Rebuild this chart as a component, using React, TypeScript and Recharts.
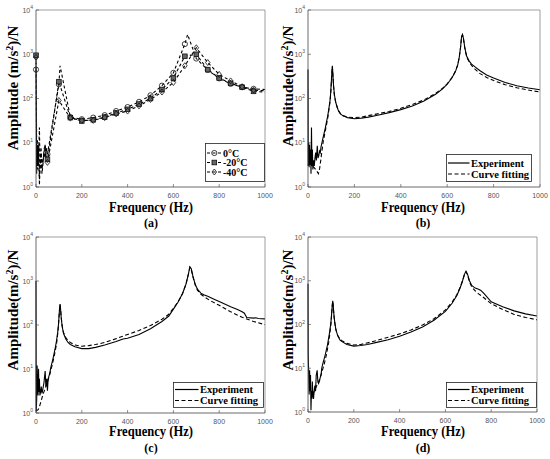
import React from 'react';
import { LineChart, Line, XAxis, YAxis, Legend } from 'recharts';

const SERIF = '"Liberation Serif", "Times New Roman", serif';
const SANS = '"Liberation Sans", Arial, sans-serif';

const xTicks = [0, 200, 400, 600, 800, 1000];
const yTicks = [1, 10, 100, 1000, 10000];
const yMinorTicks = [
  2, 3, 4, 5, 6, 7, 8, 9,
  20, 30, 40, 50, 60, 70, 80, 90,
  200, 300, 400, 500, 600, 700, 800, 900,
  2000, 3000, 4000, 5000, 6000, 7000, 8000, 9000,
];
const xDomain = [0, 1000];
const yDomain = [1, 10000];

const tempNames = ['0°C', '-20°C', '-40°C'];
const fitNames = ['Experiment', 'Curve fitting'];
const captions = ['(a)', '(b)', '(c)', '(d)'];
const xTitle = 'Frequency (Hz)';

// ---------- Panel (a): three temperatures ----------
const aFreq0 = [0, 3, 6, 9, 12, 15, 18, 22, 26, 30, 35, 40, 45, 50, 100, 105, 150, 200, 250, 300, 350, 400, 450, 500, 550, 600, 650, 662, 700, 750, 800, 850, 900, 950, 1000];
const aAmp0 = [450, 3, 9, 3, 7, 22, 2.5, 6, 3, 4, 6, 4.5, 8, 5.5, 210, 550, 38, 34, 37, 42, 52, 64, 84, 118, 195, 380, 1700, 2800, 800, 440, 285, 215, 180, 165, 160];

const aFreq20 = [0, 3, 6, 9, 12, 15, 18, 22, 26, 30, 35, 40, 45, 50, 100, 150, 200, 250, 300, 350, 400, 450, 500, 550, 600, 650, 700, 750, 800, 850, 900, 950, 1000];
const aAmp20 = [950, 2, 12, 3, 9, 1.1, 4, 8, 2.5, 3.5, 6, 9, 4, 4.2, 240, 37, 31, 33, 38, 47, 57, 75, 100, 160, 290, 900, 1000, 450, 290, 220, 180, 145, 140];

const aFreq40 = [0, 3, 6, 9, 12, 15, 18, 22, 26, 30, 35, 40, 45, 50, 100, 150, 200, 250, 300, 350, 400, 450, 500, 550, 600, 650, 700, 750, 800, 850, 900, 950, 1000];
const aAmp40 = [850, 8, 2.5, 9, 3, 1.5, 3, 5, 2, 3, 7, 9, 5, 3.6, 90, 36, 32, 32, 37, 45, 52, 68, 95, 140, 230, 550, 1400, 650, 350, 250, 185, 155, 150];

// ---------- Panel (b): 0°C ----------
const bExpFreq = [0, 1, 3, 5, 7, 9, 11, 13, 15, 17, 19, 21, 24, 27, 30, 33, 36, 40, 43, 46, 50, 53, 56, 60, 65, 70, 75, 80, 85, 90, 95, 98, 101, 103, 105, 107, 110, 114, 120, 130, 140, 150, 170, 200, 230, 260, 300, 350, 400, 450, 500, 550, 580, 600, 620, 635, 645, 652, 658, 662, 666, 670, 676, 684, 695, 705, 720, 740, 770, 800, 850, 900, 950, 1000];
const bExpAmp = [450, 3, 10, 2.8, 9, 3.2, 7, 2, 22, 3, 7, 2.5, 4, 3, 4.5, 6, 4, 8.5, 4.5, 5, 6.5, 6, 8, 10, 13, 17, 22, 30, 40, 60, 90, 140, 260, 400, 550, 380, 200, 120, 80, 55, 45, 41, 37, 35, 36, 38, 42, 48, 56, 68, 88, 125, 165, 210, 290, 400, 560, 850, 1500, 2500, 2800, 2300, 1400, 900, 700, 600, 520, 430, 340, 290, 230, 195, 172, 158];
const bFitFreq = [0, 5, 10, 20, 30, 40, 45, 50, 55, 60, 65, 70, 75, 80, 85, 90, 95, 98, 101, 103, 105, 107, 110, 114, 120, 130, 140, 150, 170, 200, 230, 260, 300, 350, 400, 450, 500, 550, 580, 600, 620, 635, 645, 652, 658, 662, 666, 670, 676, 684, 695, 705, 720, 740, 770, 800, 850, 900, 950, 1000];
const bFitAmp = [3.2, 3.3, 3.4, 3, 2.6, 2.2, 2, 2.6, 4, 6.5, 10, 14, 19, 26, 36, 55, 85, 130, 240, 380, 530, 360, 190, 115, 78, 54, 45, 41, 38, 37, 38, 41, 45, 51, 60, 73, 93, 130, 170, 215, 295, 410, 570, 860, 1500, 2500, 2750, 2250, 1350, 870, 660, 560, 460, 370, 300, 255, 205, 175, 155, 140];

// ---------- Panel (c): -20°C ----------
const cExpFreq = [0, 1, 3, 5, 7, 9, 11, 13, 15, 17, 20, 23, 26, 30, 35, 40, 43, 47, 50, 53, 57, 60, 65, 70, 75, 80, 85, 90, 95, 98, 101, 103, 105, 107, 110, 114, 120, 130, 140, 150, 170, 200, 230, 260, 300, 350, 380, 400, 450, 500, 550, 580, 600, 620, 640, 655, 665, 672, 678, 685, 695, 705, 720, 735, 750, 780, 800, 850, 880, 900, 910, 920, 950, 960, 970, 1000];
const cExpAmp = [1000, 1.1, 2, 12, 3, 2.5, 10, 3, 6, 2.5, 3, 4, 2.8, 3.5, 5, 9, 4, 6, 3.2, 6, 7, 8, 11, 14, 18, 24, 32, 45, 70, 100, 170, 240, 300, 240, 150, 95, 65, 48, 40, 36, 32, 29, 29, 31, 35, 42, 48, 50, 61, 82, 120, 160, 230, 330, 520, 850, 1400, 2100, 1900, 1300, 850, 650, 530, 480, 450, 380, 340, 260, 225, 200, 185, 148, 143, 146, 140, 138];
const cFitFreq = [0, 5, 10, 15, 20, 25, 30, 40, 50, 60, 70, 80, 90, 95, 98, 101, 103, 105, 107, 110, 114, 120, 130, 140, 150, 170, 200, 230, 260, 300, 350, 400, 450, 500, 550, 580, 600, 620, 640, 655, 665, 672, 678, 685, 695, 705, 720, 740, 760, 800, 850, 900, 950, 1000];
const cFitAmp = [1.1, 1.15, 1.2, 1.4, 1.7, 2.1, 2.6, 3.6, 5, 7.5, 12, 20, 38, 65, 95, 165, 235, 290, 235, 150, 97, 68, 52, 44, 40, 35, 33, 34, 36, 40, 49, 61, 75, 97, 135, 175, 240, 335, 520, 850, 1400, 2050, 1850, 1250, 820, 620, 500, 420, 360, 280, 200, 150, 120, 102];

// ---------- Panel (d): -40°C ----------
const dExpFreq = [0, 1, 3, 5, 7, 9, 11, 13, 15, 17, 19, 21, 24, 27, 30, 33, 36, 40, 43, 46, 50, 53, 57, 60, 65, 70, 75, 80, 85, 90, 95, 100, 103, 106, 108, 110, 113, 117, 122, 130, 140, 150, 170, 200, 230, 260, 300, 350, 400, 450, 500, 550, 600, 630, 650, 665, 675, 683, 690, 697, 705, 715, 730, 745, 755, 770, 800, 850, 900, 950, 1000];
const dExpAmp = [850, 20, 8, 2.5, 9, 3, 7, 1.1, 3, 2, 5, 2.5, 2, 3, 4, 3, 7, 9, 5, 4.5, 5, 6, 7, 10, 13, 16, 20, 26, 34, 48, 70, 110, 170, 280, 350, 280, 170, 110, 75, 55, 44, 40, 35, 32, 33, 35, 39, 45, 54, 67, 88, 125, 200, 310, 460, 700, 1000, 1400, 1650, 1400, 1000, 780, 680, 640, 600, 500, 330, 255, 205, 175, 157];
const dFitFreq = [20, 30, 40, 50, 60, 70, 80, 90, 95, 100, 103, 106, 108, 110, 113, 117, 122, 130, 140, 150, 170, 200, 230, 260, 300, 350, 400, 450, 500, 550, 600, 630, 650, 665, 675, 683, 690, 697, 705, 715, 730, 745, 760, 800, 850, 900, 950, 1000];
const dFitAmp = [2.5, 3.2, 4.2, 5.5, 8, 12, 20, 38, 60, 100, 165, 275, 340, 275, 165, 108, 75, 56, 46, 42, 37, 34, 35, 38, 43, 51, 61, 75, 97, 135, 215, 330, 480, 720, 1000, 1380, 1600, 1350, 950, 720, 590, 500, 440, 300, 220, 170, 145, 128];

type Pt = { f: number; v: number };
const zip = (f: number[], v: number[]): Pt[] => f.map((x, i) => ({ f: x, v: v[i] }));

const XTick = (props: any) => {
  const { x, y, payload } = props;
  return (
    <text x={x} y={y} textAnchor="middle" fontSize={7} fill="#555" fontFamily={SANS}>
      {payload.value}
    </text>
  );
};

const YTick = (props: any) => {
  const { x, y, payload } = props;
  const exp = Math.round(Math.log10(payload.value));
  return (
    <text x={x} y={y + 2.5} textAnchor="end" fontSize={7} fill="#555" fontFamily={SANS}>
      <tspan>10</tspan>
      <tspan dy={-3.5} fontSize={5}>{exp}</tspan>
    </text>
  );
};

type Shape = 'circle' | 'square' | 'diamond';
const Marker = ({ shape, cx, cy }: { shape: Shape; cx: number; cy: number }) => {
  if (shape === 'circle')
    return <circle cx={cx} cy={cy} r={2.6} fill="none" stroke="#111" strokeWidth={0.8} />;
  if (shape === 'square')
    return <rect x={cx - 2.3} y={cy - 2.3} width={4.6} height={4.6} fill="#666" stroke="#111" strokeWidth={0.8} />;
  return (
    <polygon
      points={`${cx},${cy - 3} ${cx + 2.3},${cy} ${cx},${cy + 3} ${cx - 2.3},${cy}`}
      fill="none"
      stroke="#111"
      strokeWidth={0.8}
    />
  );
};

const makeDot = (shape: Shape) => (props: any) => {
  const { cx, cy, payload, index } = props;
  if (cx == null || cy == null || payload.f % 50 !== 0 || payload.f > 950) return <g key={`d${index}`} />;
  return (
    <g key={`d${index}`}>
      <Marker shape={shape} cx={cx} cy={cy} />
    </g>
  );
};

const axes = () => [
  <XAxis
    key="xb"
    xAxisId={0}
    type="number"
    dataKey="f"
    domain={xDomain}
    ticks={xTicks}
    height={1}
    tickSize={-3}
    tickMargin={13.5}
    tick={<XTick />}
    axisLine={{ stroke: '#444', strokeWidth: 0.8 }}
    tickLine={{ stroke: '#444', strokeWidth: 0.6 }}
    interval={0}
  />,
  <XAxis
    key="xt"
    xAxisId="top"
    orientation="top"
    type="number"
    domain={xDomain}
    ticks={xTicks}
    height={1}
    tickSize={-3}
    tick={false}
    axisLine={{ stroke: '#777', strokeWidth: 0.7 }}
    tickLine={{ stroke: '#777', strokeWidth: 0.6 }}
  />,
  <YAxis
    key="yl"
    yAxisId={0}
    scale="log"
    type="number"
    domain={yDomain}
    ticks={yTicks}
    width={1}
    tickSize={-3}
    tickMargin={6}
    tick={<YTick />}
    axisLine={{ stroke: '#444', strokeWidth: 0.8 }}
    tickLine={{ stroke: '#444', strokeWidth: 0.6 }}
    interval={0}
  />,
  <YAxis
    key="ylm"
    yAxisId="leftMinor"
    scale="log"
    type="number"
    domain={yDomain}
    ticks={yMinorTicks}
    width={1}
    tickSize={-1.6}
    tick={false}
    axisLine={false}
    tickLine={{ stroke: '#666', strokeWidth: 0.5 }}
    interval={0}
  />,
  <YAxis
    key="yr"
    yAxisId="right"
    orientation="right"
    scale="log"
    type="number"
    domain={yDomain}
    ticks={yTicks}
    width={1}
    tickSize={-3}
    tick={false}
    axisLine={{ stroke: '#777', strokeWidth: 0.7 }}
    tickLine={{ stroke: '#777', strokeWidth: 0.6 }}
    interval={0}
  />,
  <YAxis
    key="yrm"
    yAxisId="rightMinor"
    orientation="right"
    scale="log"
    type="number"
    domain={yDomain}
    ticks={yMinorTicks}
    width={1}
    tickSize={-1.6}
    tick={false}
    axisLine={false}
    tickLine={{ stroke: '#777', strokeWidth: 0.5 }}
    interval={0}
  />,
];

const TempLegend = () => {
  const shapes: Shape[] = ['circle', 'square', 'diamond'];
  const rows = [10, 19.5, 29];
  return (
    <svg width={60} height={39} style={{ display: 'block' }}>
      <rect x={0.5} y={0.5} width={59} height={38} fill="#fff" stroke="#222" strokeWidth={0.8} />
      {tempNames.map((n, i) => (
        <g key={n}>
          <line x1={2} x2={16} y1={rows[i]} y2={rows[i]} stroke="#000" strokeWidth={1.1} strokeDasharray="3 2.5" />
          <Marker shape={shapes[i]} cx={9.3} cy={rows[i]} />
          <text x={18} y={rows[i] + 3.5} fontSize={10} fontWeight="bold" fontFamily={SERIF} fill="#000">
            {n}
          </text>
        </g>
      ))}
    </svg>
  );
};

const FitLegend = ({ w, h, rows, textX }: { w: number; h: number; rows: number[]; textX: number }) => (
  <svg width={w} height={h} style={{ display: 'block' }}>
    <rect x={0.5} y={0.5} width={w - 1} height={h - 1} fill="#fff" stroke="#222" strokeWidth={0.8} />
    {fitNames.map((n, i) => (
      <g key={n}>
        <line
          x1={2}
          x2={textX - 1.5}
          y1={rows[i]}
          y2={rows[i]}
          stroke="#000"
          strokeWidth={1.2}
          strokeDasharray={i === 1 ? '4 2.5' : undefined}
        />
        <text x={textX} y={rows[i] + 3.6} fontSize={10.5} fontWeight="bold" fontFamily={SERIF} fill="#000">
          {n}
        </text>
      </g>
    ))}
  </svg>
);

const Titles = ({
  yl,
  ylx,
  yly,
  xc,
  xlb,
  capb,
  caption,
}: {
  yl: React.ReactNode;
  ylx: number;
  yly: number;
  xc: number;
  xlb: number;
  capb: number;
  caption: string;
}) => (
  <svg
    width={275}
    height={230}
    style={{ position: 'absolute', left: 0, top: 0, pointerEvents: 'none', overflow: 'visible' }}
  >
    <text
      transform={`translate(${ylx},${yly}) rotate(-90)`}
      textAnchor="middle"
      fontSize={15}
      fontWeight="bold"
      fontFamily={SERIF}
      fill="#000"
      dy={5}
    >
      {yl}
    </text>
    <text
      x={xc}
      y={xlb}
      textAnchor="middle"
      fontSize={15}
      fontWeight="bold"
      fontFamily={SERIF}
      fill="#000"
      textLength={84}
      lengthAdjust="spacingAndGlyphs"
    >
      {xTitle}
    </text>
    <text x={xc} y={capb} textAnchor="middle" fontSize={12} fontWeight="bold" fontFamily={SERIF} fill="#000">
      {caption}
    </text>
  </svg>
);

const yLabelA = (
  <>
    <tspan>Amplitude (m/s</tspan>
    <tspan dy={-5} fontSize={10}>2</tspan>
    <tspan dy={5}>)/N</tspan>
  </>
);
const yLabelB = (
  <>
    <tspan>Amplitude(m/s</tspan>
    <tspan dy={-5} fontSize={10}>2</tspan>
    <tspan dy={5}>)/N</tspan>
  </>
);

const legendPos = (left: number, top: number, width: number, height: number) => ({
  position: 'absolute' as const,
  left,
  top,
  width,
  height,
});

export default function App() {
  const a0 = zip(aFreq0, aAmp0);
  const a20 = zip(aFreq20, aAmp20);
  const a40 = zip(aFreq40, aAmp40);
  const bE = zip(bExpFreq, bExpAmp);
  const bF = zip(bFitFreq, bFitAmp);
  const cE = zip(cExpFreq, cExpAmp);
  const cF = zip(cFitFreq, cFitAmp);
  const dE = zip(dExpFreq, dExpAmp);
  const dF = zip(dFitFreq, dFitAmp);

  const expLine = (data: Pt[], key: string) => (
    <Line
      key={key}
      data={data}
      dataKey="v"
      type="linear"
      stroke="#000"
      strokeWidth={1.1}
      dot={false}
      isAnimationActive={false}
    />
  );
  const fitLine = (data: Pt[], key: string) => (
    <Line
      key={key}
      data={data}
      dataKey="v"
      type="linear"
      stroke="#000"
      strokeWidth={1.1}
      strokeDasharray="4 2.5"
      dot={false}
      isAnimationActive={false}
    />
  );

  return (
    <div style={{ position: 'absolute', left: 0, top: 0, width: 550, height: 459, background: '#fff' }}>
      {/* (a) */}
      <div style={{ position: 'absolute', left: 0, top: 0, width: 275, height: 230 }}>
        <LineChart width={275} height={230} margin={{ top: 9, left: 34, right: 8, bottom: 42 }}>
          {axes()}
          <Line data={a0} dataKey="v" type="linear" stroke="#000" strokeWidth={1.1} strokeDasharray="3 2.5" dot={makeDot('circle')} isAnimationActive={false} />
          <Line data={a20} dataKey="v" type="linear" stroke="#000" strokeWidth={1.1} strokeDasharray="3 2.5" dot={makeDot('square')} isAnimationActive={false} />
          <Line data={a40} dataKey="v" type="linear" stroke="#000" strokeWidth={1.1} strokeDasharray="3 2.5" dot={makeDot('diamond')} isAnimationActive={false} />
          <Legend
            layout="vertical"
            align="center"
            verticalAlign="middle"
            wrapperStyle={legendPos(205, 143, 60, 39)}
            content={() => <TempLegend />}
          />
        </LineChart>
        <Titles yl={yLabelA} ylx={12.7} yly={88} xc={151} xlb={211.5} capb={227} caption={captions[0]} />
      </div>
      {/* (b) */}
      <div style={{ position: 'absolute', left: 275, top: 0, width: 275, height: 230 }}>
        <LineChart width={275} height={230} margin={{ top: 9, left: 31, right: 8, bottom: 42 }}>
          {axes()}
          {expLine(bE, 'be')}
          {fitLine(bF, 'bf')}
          <Legend
            layout="vertical"
            align="center"
            verticalAlign="middle"
            wrapperStyle={legendPos(171, 154, 86, 28)}
            content={() => <FitLegend w={86} h={28} rows={[9, 20]} textX={25} />}
          />
        </LineChart>
        <Titles yl={yLabelB} ylx={13.3} yly={86} xc={148} xlb={211.5} capb={227} caption={captions[1]} />
      </div>
      {/* (c) */}
      <div style={{ position: 'absolute', left: 0, top: 230, width: 275, height: 229 }}>
        <LineChart width={275} height={229} margin={{ top: 6, left: 34, right: 8, bottom: 45 }}>
          {axes()}
          {expLine(cE, 'ce')}
          {fitLine(cF, 'cf')}
          <Legend
            layout="vertical"
            align="center"
            verticalAlign="middle"
            wrapperStyle={legendPos(173, 152, 91, 26)}
            content={() => <FitLegend w={91} h={26} rows={[7.5, 18.5]} textX={27} />}
          />
        </LineChart>
        <Titles yl={yLabelB} ylx={13.3} yly={80} xc={151} xlb={206} capb={222} caption={captions[2]} />
      </div>
      {/* (d) */}
      <div style={{ position: 'absolute', left: 275, top: 230, width: 275, height: 229 }}>
        <LineChart width={275} height={229} margin={{ top: 6, left: 31, right: 11, bottom: 46 }}>
          {axes()}
          {expLine(dE, 'de')}
          {fitLine(dF, 'df')}
          <Legend
            layout="vertical"
            align="center"
            verticalAlign="middle"
            wrapperStyle={legendPos(171, 152, 91, 26)}
            content={() => <FitLegend w={91} h={26} rows={[7.5, 18.5]} textX={25} />}
          />
        </LineChart>
        <Titles yl={yLabelB} ylx={12.7} yly={80} xc={148} xlb={206} capb={222} caption={captions[3]} />
      </div>
    </div>
  );
}
